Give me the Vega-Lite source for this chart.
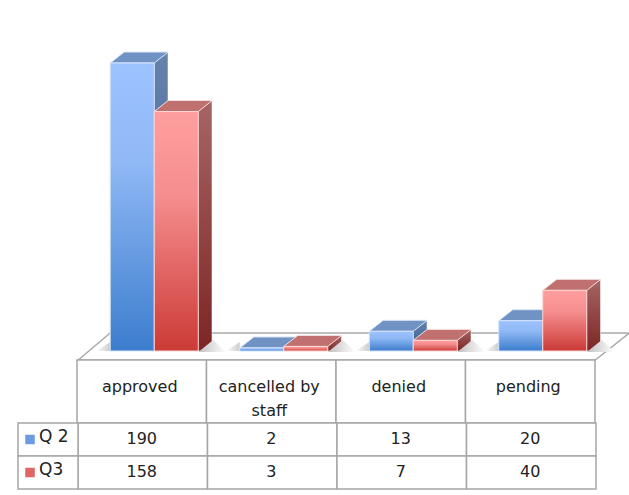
{
"$schema":"https://vega.github.io/schema/vega-lite/v6.json",
"width":629,"height":495,"padding":0,"autosize":{"type":"none"},"background":"white",
"config":{"view":{"stroke":null},"text":{"font":"DejaVu Sans"}},
"data":{"values":[
{"category":"approved","series":"Q 2","value":190},
{"category":"cancelled by\nstaff","series":"Q 2","value":2},
{"category":"denied","series":"Q 2","value":13},
{"category":"pending","series":"Q 2","value":20},
{"category":"approved","series":"Q3","value":158},
{"category":"cancelled by\nstaff","series":"Q3","value":3},
{"category":"denied","series":"Q3","value":7},
{"category":"pending","series":"Q3","value":40}]},
"resolve":{"scale":{"x":"independent","y":"independent","xOffset":"independent"}},
"layer":[
{"transform":[{"filter":"datum.category==='approved'&&datum.series==='Q 2'"}],
"mark":{"type":"point","shape":"M-54,9 L-22,-18 L497,-18 L463,9 Z","size":4,"filled":true,"fill":"white","stroke":"#aaaaaa","strokeWidth":1.5,"opacity":1},
"encoding":{
"x":{"field":"category","type":"nominal","axis":null,"scale":{"domain":["approved","cancelled by\nstaff","denied","pending"],"range":[89.5,607.5],"paddingInner":0.32,"paddingOuter":0.16}},
"xOffset":{"field":"series","type":"nominal","scale":{"domain":["Q 2","Q3"]}},
"y":{"datum":0,"type":"quantitative","axis":null,"scale":{"domain":[0,190],"range":[351,63],"nice":false}}}},
{"transform":[{"filter":"datum.series==='Q 2'"}],
"mark":{"type":"bar","width":14,"stroke":"white","strokeOpacity":0.5,"fill":{"gradient":"linear","x1":0,"y1":0,"x2":0,"y2":1,"stops":[{"offset":0,"color":"#6683ad"},{"offset":1,"color":"#345a92"}]}},
"encoding":{
"x":{"field":"category","type":"nominal","axis":null,"scale":{"domain":["approved","cancelled by\nstaff","denied","pending"],"range":[154,556.5],"paddingInner":0.892,"paddingOuter":0}},
"y":{"field":"value","type":"quantitative","axis":null,"scale":{"domain":[-7.257,190],"range":[351,52],"nice":false,"zero":false}},
"y2":{"datum":-7.257}}},
{"encoding":{
"x":{"field":"category","type":"nominal","axis":null,"scale":{"domain":["approved","cancelled by\nstaff","denied","pending"],"range":[89.5,607.5],"paddingInner":0.32,"paddingOuter":0.16}},
"xOffset":{"field":"series","type":"nominal","scale":{"domain":["Q 2","Q3"]}},
"y":{"field":"value","type":"quantitative","axis":null,"scale":{"domain":[0,190],"range":[351,63],"nice":false}}},
"transform":[{"filter":"datum.series==='Q 2'"}],
"layer":[
{"mark":{"type":"point","shape":"M-22,0 L-36,0 L-22,-9 Z","size":4,"filled":true,"opacity":1,"fill":{"gradient":"linear","x1":0,"y1":0,"x2":1,"y2":0,"stops":[{"offset":0,"color":"#ffffff"},{"offset":1,"color":"#cccccc"}]}},"encoding":{"y":{"datum":0}}},
{"mark":{"type":"point","shape":"M22,1 L37,1 L37,-11 Z","size":4,"filled":true,"fill":"white","opacity":1},"encoding":{"y":{"datum":0}}},
{"mark":{"type":"point","shape":"M-22,0 L22,0 L36,-11 L-8,-11 Z","size":4,"filled":true,"fill":"#7193c4","stroke":"#dfe8f5","strokeWidth":1,"opacity":1}},
{"mark":{"type":"bar","stroke":"#d3e3fb","strokeWidth":1,"fill":{"gradient":"linear","x1":0,"y1":0,"x2":0,"y2":1,"stops":[{"offset":0,"color":"#9dc3ff"},{"offset":0.35,"color":"#8fb8f5"},{"offset":1,"color":"#3c7dcd"}]}}}
]},
{"transform":[{"filter":"datum.series==='Q3'"}],
"mark":{"type":"bar","width":14,"stroke":"white","strokeOpacity":0.5,"fill":{"gradient":"linear","x1":0,"y1":0,"x2":0,"y2":1,"stops":[{"offset":0,"color":"#a66565"},{"offset":1,"color":"#7c2624"}]}},
"encoding":{
"x":{"field":"category","type":"nominal","axis":null,"scale":{"domain":["approved","cancelled by\nstaff","denied","pending"],"range":[198,600.5],"paddingInner":0.892,"paddingOuter":0}},
"y":{"field":"value","type":"quantitative","axis":null,"scale":{"domain":[-7.257,190],"range":[351,52],"nice":false,"zero":false}},
"y2":{"datum":-7.257}}},
{"encoding":{
"x":{"field":"category","type":"nominal","axis":null,"scale":{"domain":["approved","cancelled by\nstaff","denied","pending"],"range":[89.5,607.5],"paddingInner":0.32,"paddingOuter":0.16}},
"xOffset":{"field":"series","type":"nominal","scale":{"domain":["Q 2","Q3"]}},
"y":{"field":"value","type":"quantitative","axis":null,"scale":{"domain":[0,190],"range":[351,63],"nice":false}}},
"transform":[{"filter":"datum.series==='Q3'"}],
"layer":[
{"mark":{"type":"point","shape":"M22,1 L50,1 L37,-11 Z","size":4,"filled":true,"opacity":1,"fill":{"gradient":"linear","x1":0,"y1":0,"x2":1,"y2":0,"stops":[{"offset":0,"color":"#c0c0c0"},{"offset":1,"color":"#ffffff"}]}},"encoding":{"y":{"datum":0}}},
{"mark":{"type":"point","shape":"M-22,0 L22,0 L36,-11 L-8,-11 Z","size":4,"filled":true,"fill":"#c17070","stroke":"#f4dfdf","strokeWidth":1,"opacity":1}},
{"mark":{"type":"bar","stroke":"#fbd5d5","strokeWidth":1,"fill":{"gradient":"linear","x1":0,"y1":0,"x2":0,"y2":1,"stops":[{"offset":0,"color":"#ff9e9e"},{"offset":0.35,"color":"#f58e8e"},{"offset":1,"color":"#cb3a36"}]}}}
]},
{"transform":[{"filter":"datum.series==='Q 2'"}],
"encoding":{
"x":{"field":"category","type":"nominal","axis":null,"scale":{"domain":["approved","cancelled by\nstaff","denied","pending"],"range":[77,595],"paddingInner":0,"paddingOuter":0}},
"y":{"datum":"head","type":"nominal","axis":null,"scale":{"domain":["head"],"range":[360,423],"paddingInner":0,"paddingOuter":0}}},
"layer":[
{"mark":{"type":"rect","fill":"white","stroke":"#a6a6a6","strokeWidth":1.5}},
{"mark":{"type":"text","fontSize":16,"color":"#222222","lineBreak":"\n","lineHeight":24,"baseline":"middle","dy":-5,"dx":-2},"encoding":{"text":{"field":"category"}}}
]},
{"encoding":{
"x":{"field":"category","type":"nominal","axis":null,"scale":{"domain":["approved","cancelled by\nstaff","denied","pending"],"range":[78,596],"paddingInner":0,"paddingOuter":0}},
"y":{"field":"series","type":"nominal","axis":null,"scale":{"domain":["Q 2","Q3"],"range":[423,489],"paddingInner":0,"paddingOuter":0}}},
"layer":[
{"mark":{"type":"rect","fill":"white","stroke":"#a6a6a6","strokeWidth":1.5}},
{"mark":{"type":"text","fontSize":16,"color":"#222222","baseline":"middle","dx":-1,"dy":-1},"encoding":{"text":{"field":"value"}}}
]},
{"transform":[{"filter":"datum.category==='approved'"}],
"encoding":{
"x":{"datum":"Q","type":"nominal","axis":null,"scale":{"domain":["Q"],"range":[18,78],"paddingInner":0,"paddingOuter":0}},
"y":{"field":"series","type":"nominal","axis":null,"scale":{"domain":["Q 2","Q3"],"range":[423,489],"paddingInner":0,"paddingOuter":0}}},
"layer":[
{"mark":{"type":"rect","fill":"white","stroke":"#a6a6a6","strokeWidth":1.5}},
{"mark":{"type":"point","shape":"square","filled":true,"size":90,"xOffset":-18,"yOffset":0,"opacity":1},"encoding":{"color":{"field":"series","type":"nominal","legend":null,"scale":{"domain":["Q 2","Q3"],"range":["#6b9be0","#e06666"]}}}},
{"mark":{"type":"text","fontSize":17,"color":"#222222","align":"left","baseline":"middle","dx":-9,"dy":-3},"encoding":{"text":{"field":"series"}}}
]}
]}
